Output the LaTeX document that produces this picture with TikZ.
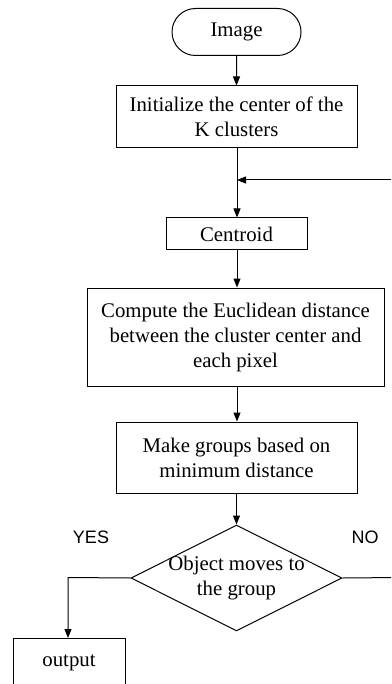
\documentclass[tikz,border=0pt]{standalone}
\usepackage{fontspec}
\setmainfont{Liberation Serif}
\setsansfont{Liberation Sans}
\usetikzlibrary{arrows.meta,shapes.misc,shapes.geometric}
\tikzset{
  boxfont/.style={font=\fontsize{20.8}{25}\selectfont},
  flowbox/.style={draw, line width=1pt, rectangle, align=center, inner sep=0pt, boxfont},
  flowline/.style={line width=1pt, -{Triangle[length=9pt,width=7pt]}},
  plainline/.style={line width=1pt},
  lbl/.style={font=\sffamily\fontsize{18}{20}\selectfont, inner sep=0pt},
}
\begin{document}
\begin{tikzpicture}[x=1pt,y=-1pt]
\useasboundingbox (0,0) rectangle (391,684);
\clip (0,0) rectangle (391,684);
\node[flowbox, rounded rectangle, minimum width=129pt, minimum height=47pt] (img) at (236.5,32) {Image};
\node[flowbox, minimum width=241pt, minimum height=62pt] (init) at (236.5,117) {Initialize the center of the\\K clusters};
\coordinate (join) at (237,180);
\coordinate (fbright) at (400,180);
\node[flowbox, minimum width=141pt, minimum height=32pt] (cent) at (236.5,234) {Centroid};
\node[flowbox, minimum width=297pt, minimum height=98pt] (comp) at (235.5,337) {Compute the Euclidean distance\\between the cluster center and\\each pixel};
\node[flowbox, minimum width=241pt, minimum height=71pt] (grp) at (236.5,457.5) {Make groups based on\\minimum distance};
\node[flowbox, diamond, minimum width=211pt, minimum height=106pt, aspect=2] (dec) at (236.5,578) {};
\node[boxfont, align=center, inner sep=0pt] (dectext) at (236.5,578) {Object moves to\\the group};
\node[flowbox, minimum width=112pt, minimum height=80pt, anchor=north] (out) at (69,638) {};
\node[boxfont, inner sep=0pt] (outtext) at (69,663) {output};
\coordinate (yescorner) at (68,577.5);
\coordinate (noend) at (400,577.5);
\node[lbl] (yes) at (91,537) {YES};
\node[lbl] (no) at (365,537) {NO};

\draw[flowline] (img) -- (init);
\draw[plainline] (init.south -| join) -- (join);
\draw[flowline] (fbright) -- (join);
\draw[flowline] (join) -- (cent.north -| join);
\draw[flowline] (cent.south -| join) -- (comp.north -| join);
\draw[flowline] (comp.south -| join) -- (grp.north -| join);
\draw[flowline] (grp.south -| dec.north) -- (dec.north);
\draw[flowline] (dec.west) -- (yescorner) -- (out.north -| yescorner);
\draw[plainline] (dec.east) -- (noend);
\end{tikzpicture}
\end{document}
